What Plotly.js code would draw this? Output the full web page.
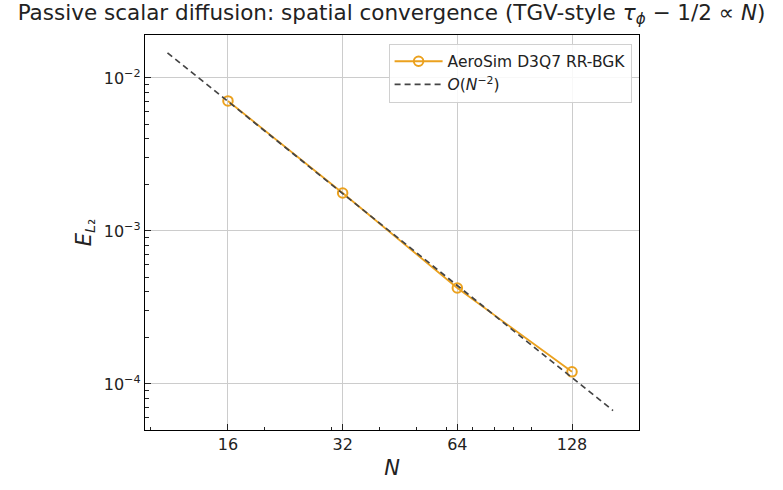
<!DOCTYPE html>
<html><head><meta charset="utf-8">
<script src="https://cdn.plot.ly/plotly-3.0.1.min.js"></script>
<style>body{margin:0;background:#fff}#c{width:783px;height:490px}</style>
</head><body><div id="c"></div>
<script>
const N = [16, 32, 64, 128];
const errL2 = [7.08e-3, 1.77e-3, 4.24e-4, 1.20e-4];
const refN = [11.1, 164];
const refE = [1.46e-2, 6.7e-5];
const xTicks = [16, 32, 64, 128];
const xTickText = ['16', '32', '64', '128'];
const xMinor = [10, 20, 30, 40, 50, 60, 70, 80, 90, 100];
const yTicks = [1e-4, 1e-3, 1e-2];
const yTickText = ['10<sup>−4</sup>', '10<sup>−3</sup>', '10<sup>−2</sup>'];
const yMinor = [6e-5,7e-5,8e-5,9e-5,2e-4,3e-4,4e-4,5e-4,6e-4,7e-4,8e-4,9e-4,2e-3,3e-3,4e-3,5e-3,6e-3,7e-3,8e-3,9e-3];

const font = 'DejaVu Sans, sans-serif';
const traces = [
  {x: N, y: errL2, mode: 'lines+markers', name: 'AeroSim D3Q7 RR-BGK',
   line: {color: '#EBA11E', width: 1.8},
   marker: {symbol: 'circle-open', size: 9.5, color: '#EBA11E', line: {width: 2, color: '#EBA11E'}}},
  {x: refN, y: refE, mode: 'lines', name: '<i>O</i>(<i>N</i><sup>−2</sup>)',
   line: {color: '#444444', width: 1.7, dash: '6px,4px'}}
];
const layout = {
  width: 783, height: 490,
  margin: {l: 145, r: 144, t: 35, b: 60},
  paper_bgcolor: '#fff', plot_bgcolor: '#fff',
  font: {family: font, color: '#222', size: 16},
  title: {text: 'Passive scalar diffusion: spatial convergence (TGV-style <i>τ</i><sub><i>ϕ</i></sub> − 1/2 ∝ <i>N</i>)',
          font: {size: 21.5, family: font, color: '#222'}, x: 0.5, xanchor: 'center', y: 0.99, yanchor: 'top'},
  xaxis: {type: 'log', range: [Math.log10(9.69), Math.log10(191.9)],
          tickmode: 'array', tickvals: xTicks, ticktext: xTickText,
          ticks: 'inside', ticklen: 6, tickwidth: 1, tickcolor: '#222',
          showgrid: true, gridcolor: '#cccccc', gridwidth: 1,
          showline: true, linecolor: '#000', linewidth: 1.2, mirror: true,
          zeroline: false, tickfont: {size: 16},
          minor: {tickmode: 'array', tickvals: xMinor, ticks: 'inside', ticklen: 3.5, tickcolor: '#222', showgrid: false},
          title: {text: '<i>N</i>', font: {size: 21}, standoff: 6}},
  yaxis: {type: 'log', range: [Math.log10(5.0e-5), Math.log10(1.91e-2)],
          tickmode: 'array', tickvals: yTicks, ticktext: yTickText,
          ticks: 'inside', ticklen: 6, tickwidth: 1, tickcolor: '#222',
          showgrid: true, gridcolor: '#cccccc', gridwidth: 1,
          showline: true, linecolor: '#000', linewidth: 1.2, mirror: true,
          zeroline: false, tickfont: {size: 16},
          minor: {tickmode: 'array', tickvals: yMinor, ticks: 'inside', ticklen: 3.5, tickcolor: '#222', showgrid: false},
          title: {text: '<i>E</i><sub><i>L</i>₂</sub>', font: {size: 21}, standoff: 6}},
  showlegend: true,
  legend: {x: 0.985, xanchor: 'right', y: 0.978, yanchor: 'top',
           bgcolor: 'rgba(255,255,255,0.85)', bordercolor: '#d0d0d0', borderwidth: 1,
           font: {size: 15.5}, tracegroupgap: 0, itemwidth: 48}
};
Plotly.newPlot('c', traces, layout, {displayModeBar: false, staticPlot: true});
</script></body></html>
